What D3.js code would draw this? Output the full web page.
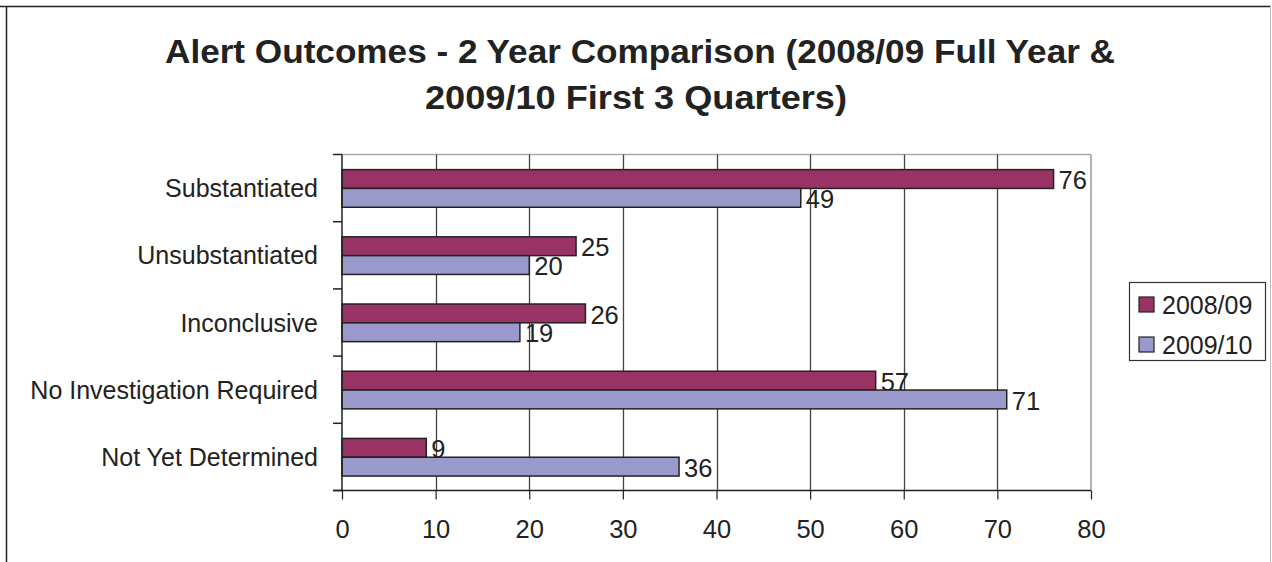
<!DOCTYPE html>
<html><head><meta charset="utf-8">
<script src="https://cdn.jsdelivr.net/npm/d3@7"></script>
<style>html,body{margin:0;padding:0;background:#fff;}svg{display:block;font-family:"Liberation Sans",Arial,Helvetica,sans-serif;}</style>
</head><body>
<svg id="c" width="1272" height="562"></svg>
<script>
const categories = ["Substantiated","Unsubstantiated","Inconclusive","No Investigation Required","Not Yet Determined"];
const seriesNames = ["2008/09","2009/10"];
const values2008 = [76,25,26,57,9];
const values2009 = [49,20,19,71,36];
const xTicks = [0,10,20,30,40,50,60,70,80];
const titleLines = ["Alert Outcomes - 2 Year Comparison (2008/09 Full Year &","2009/10 First 3 Quarters)"];
const colors = ["#993366","#9999cc"];

(function(){
const svg = d3.select("#c");
const seriesVals = [values2008, values2009];

// outer frame
svg.append("line").attr("x1",0).attr("x2",1271).attr("y1",6.5).attr("y2",6.5).attr("stroke","#222").attr("stroke-width",1.5);
svg.append("line").attr("x1",6.5).attr("x2",6.5).attr("y1",6).attr("y2",562).attr("stroke","#222").attr("stroke-width",1.5);
svg.append("line").attr("x1",1270.5).attr("x2",1270.5).attr("y1",6).attr("y2",562).attr("stroke","#bbb").attr("stroke-width",1);

// title
svg.append("text").attr("x",640).attr("y",63).attr("text-anchor","middle")
  .attr("font-size",33).attr("font-weight","bold").attr("fill","#222")
  .attr("textLength",950).attr("lengthAdjust","spacingAndGlyphs").text(titleLines[0]);
svg.append("text").attr("x",636).attr("y",109).attr("text-anchor","middle")
  .attr("font-size",33).attr("font-weight","bold").attr("fill","#222")
  .attr("textLength",422).attr("lengthAdjust","spacingAndGlyphs").text(titleLines[1]);

const pL = 342, pR = 1091, pT = 154.5, pB = 490.5;
const x = d3.scaleLinear().domain([0,80]).range([pL,pR]);
const y = d3.scaleBand().domain(categories).range([pT,pB]).padding(0);
const bw = y.bandwidth();
const y1 = d3.scaleBand().domain(seriesNames).range([bw*0.225, bw*0.785]).padding(0);

// plot border top/right
svg.append("line").attr("x1",pL).attr("x2",pR).attr("y1",pT).attr("y2",pT).attr("stroke","#aaa").attr("stroke-width",1.5);
svg.append("line").attr("x1",pR).attr("x2",pR).attr("y1",pT).attr("y2",pB).attr("stroke","#999").attr("stroke-width",1.5);

// gridlines
svg.append("g").selectAll("line").data(xTicks.filter(d=>d>0&&d<80)).join("line")
  .attr("x1",d=>Math.round(x(d))+0.5).attr("x2",d=>Math.round(x(d))+0.5)
  .attr("y1",pT).attr("y2",pB).attr("stroke","#444").attr("stroke-width",1.3);

// bars
const g = svg.append("g");
seriesNames.forEach((s,si)=>{
  g.selectAll(null).data(categories).join("rect")
    .attr("x",x(0)).attr("y",c=>y(c)+y1(s))
    .attr("width",(c,i)=>x(seriesVals[si][i])-x(0))
    .attr("height",y1.bandwidth())
    .attr("fill",colors[si]).attr("stroke","#222").attr("stroke-width",1.5);
  g.selectAll(null).data(categories).join("text")
    .attr("x",(c,i)=>x(seriesVals[si][i])+5)
    .attr("y",c=>y(c)+y1(s)+y1.bandwidth()/2+1)
    .attr("dy","0.36em").attr("font-size",25.5).attr("fill","#222")
    .text((c,i)=>seriesVals[si][i]);
});

// x axis
const xAxis = d3.axisBottom(x).tickValues(xTicks).tickSize(9).tickPadding(20).tickSizeOuter(0);
const xa = svg.append("g").attr("transform",`translate(0,${pB})`).call(xAxis);
xa.select(".domain").remove();
xa.selectAll(".tick line").attr("stroke","#222").attr("stroke-width",1.2);
xa.selectAll(".tick text").attr("font-size",25.5).attr("fill","#222").attr("font-family",'"Liberation Sans",Arial,sans-serif');
svg.append("line").attr("x1",333).attr("x2",pR).attr("y1",pB).attr("y2",pB).attr("stroke","#222").attr("stroke-width",1.5);

// y axis
svg.append("line").attr("x1",pL).attr("x2",pL).attr("y1",pT).attr("y2",pB).attr("stroke","#222").attr("stroke-width",1.5);
const bounds = categories.map(c=>y(c)).concat([pB]);
svg.append("g").selectAll("line").data(bounds).join("line")
  .attr("x1",333).attr("x2",pL).attr("y1",d=>d).attr("y2",d=>d).attr("stroke","#222").attr("stroke-width",1.5);
svg.append("g").selectAll("text").data(categories).join("text")
  .attr("x",318).attr("y",c=>y(c)+bw/2).attr("dy","0.36em").attr("text-anchor","end")
  .attr("font-size",25).attr("fill","#222").text(c=>c);

// legend
const lg = svg.append("g");
lg.append("rect").attr("x",1129.5).attr("y",282.5).attr("width",136).attr("height",78).attr("fill","#fff").attr("stroke","#333").attr("stroke-width",1.2);
seriesNames.forEach((s,i)=>{
  const yy = 297 + i*40;
  lg.append("rect").attr("x",1139).attr("y",yy).attr("width",15).attr("height",15).attr("fill",colors[i]).attr("stroke","#222").attr("stroke-width",1.2);
  lg.append("text").attr("x",1162).attr("y",yy+7.5).attr("dy","0.36em").attr("font-size",25).attr("fill","#222").text(s);
});
})();
</script>
</body></html>
